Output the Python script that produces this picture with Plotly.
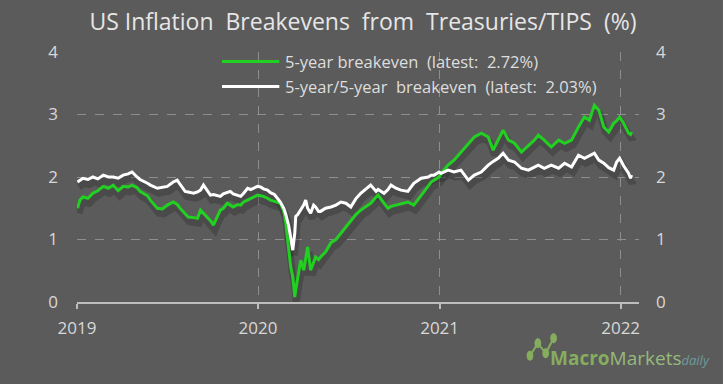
import plotly.graph_objects as go
import pandas as pd

dates = [
 "2019-01-02","2019-01-07","2019-01-13","2019-01-23","2019-02-02","2019-02-12","2019-02-23","2019-03-05",
 "2019-03-15","2019-03-25","2019-04-04","2019-04-14","2019-04-22","2019-05-02","2019-05-08","2019-05-23",
 "2019-05-29","2019-06-12","2019-06-22","2019-07-02","2019-07-14","2019-07-22","2019-07-28","2019-08-07",
 "2019-08-13","2019-08-24","2019-09-01","2019-09-07","2019-09-13","2019-09-21","2019-09-27","2019-10-03",
 "2019-10-11","2019-10-17","2019-10-23","2019-10-31","2019-11-06","2019-11-12","2019-11-21","2019-11-27",
 "2019-12-03","2019-12-11","2019-12-17","2019-12-25","2019-12-31","2020-01-06","2020-01-12","2020-01-20",
 "2020-01-26","2020-02-03","2020-02-09","2020-02-15","2020-02-22","2020-02-26","2020-03-03","2020-03-07",
 "2020-03-11","2020-03-15","2020-03-17","2020-03-21","2020-03-27","2020-04-02","2020-04-06","2020-04-10",
 "2020-04-16","2020-04-22","2020-04-26","2020-05-02","2020-05-06","2020-05-16","2020-05-27","2020-06-06",
 "2020-06-16","2020-06-26","2020-07-06","2020-07-16","2020-07-26","2020-08-05","2020-08-15","2020-08-26",
 "2020-08-30","2020-09-11","2020-09-19","2020-09-25","2020-10-05","2020-10-15","2020-10-29","2020-11-10",
 "2020-11-25","2020-12-09","2020-12-15","2020-12-21","2020-12-31","2021-01-04","2021-01-18","2021-01-30",
 "2021-02-13","2021-02-28","2021-03-12","2021-03-26","2021-04-09","2021-04-19","2021-04-29","2021-05-09",
 "2021-05-20","2021-06-01","2021-06-15","2021-06-29","2021-07-11","2021-07-19","2021-07-31","2021-08-14",
 "2021-08-29","2021-09-10","2021-09-24","2021-10-08","2021-10-20","2021-10-30","2021-11-09","2021-11-18",
 "2021-11-28","2021-12-08","2021-12-18","2021-12-24","2021-12-30","2022-01-07","2022-01-13","2022-01-17",
 "2022-01-21","2022-01-23",
]

five_year = [
 1.50,1.63,1.68,1.66,1.74,1.78,1.85,1.82,
 1.87,1.78,1.85,1.84,1.87,1.83,1.77,1.70,
 1.63,1.50,1.49,1.55,1.60,1.56,1.50,1.42,
 1.36,1.35,1.34,1.47,1.42,1.36,1.30,1.23,
 1.38,1.47,1.50,1.58,1.55,1.52,1.56,1.55,
 1.60,1.63,1.66,1.68,1.71,1.70,1.69,1.66,
 1.63,1.61,1.60,1.58,1.45,1.26,0.83,0.55,
 0.40,0.08,0.20,0.40,0.67,0.51,0.70,0.88,
 0.51,0.65,0.72,0.68,0.72,0.80,0.95,1.00,
 1.10,1.20,1.31,1.40,1.47,1.52,1.58,1.68,
 1.71,1.58,1.50,1.53,1.55,1.57,1.60,1.55,
 1.71,1.87,1.92,1.95,2.00,2.06,2.19,2.27,
 2.40,2.54,2.64,2.70,2.64,2.43,2.59,2.75,
 2.59,2.54,2.40,2.51,2.59,2.67,2.59,2.48,
 2.59,2.54,2.59,2.80,2.96,2.91,3.15,3.07,
 2.80,2.72,2.86,2.90,2.96,2.86,2.75,2.70,
 2.68,2.72,
]

five_five = [
 1.92,1.95,1.98,1.96,2.00,1.97,2.03,2.00,
 2.00,1.98,2.03,2.05,2.08,2.00,1.96,1.90,
 1.87,1.82,1.84,1.85,1.92,1.95,1.88,1.77,
 1.76,1.74,1.76,1.79,1.87,1.78,1.71,1.72,
 1.70,1.69,1.73,1.75,1.77,1.73,1.71,1.69,
 1.74,1.82,1.80,1.83,1.85,1.84,1.81,1.79,
 1.75,1.72,1.66,1.60,1.50,1.40,1.21,1.00,
 0.83,1.10,1.37,1.40,1.47,1.55,1.63,1.50,
 1.42,1.55,1.52,1.45,1.45,1.50,1.52,1.55,
 1.60,1.58,1.52,1.65,1.74,1.80,1.87,1.77,
 1.80,1.74,1.80,1.87,1.82,1.79,1.77,1.90,
 1.98,2.00,2.03,2.03,2.08,2.06,2.11,2.08,
 2.11,1.95,2.03,2.08,2.19,2.25,2.30,2.38,
 2.27,2.24,2.14,2.11,2.16,2.19,2.14,2.19,
 2.14,2.22,2.16,2.35,2.30,2.34,2.38,2.27,
 2.22,2.15,2.11,2.24,2.30,2.18,2.10,2.06,
 1.98,2.03,
]

series_names = ["5-year breakeven  (latest:  2.72%)", "5-year/5-year  breakeven  (latest:  2.03%)"]
series_colors = ["#22d022", "#ffffff"]
y_ticks = [0, 1, 2, 3, 4]
x_ticks = ["2019-01-01", "2020-01-01", "2021-01-01", "2022-01-01"]
x_tick_labels = ["2019", "2020", "2021", "2022"]
title_text = "US Inflation  Breakevens  from  Treasuries/TIPS  (%)"

BG = "#5b5b5b"
TXT = "#d8d8d8"
FONT = "Open Sans"

d = pd.to_datetime(dates)
shadow_d = d + pd.Timedelta(days=3)

fig = go.Figure()
for vals in [five_year, five_five]:
    fig.add_trace(go.Scatter(x=shadow_d, y=[v - 0.08 for v in vals], mode="lines",
                             line=dict(color="rgba(35,35,35,0.30)", width=7),
                             hoverinfo="skip", showlegend=False))
for vals, name, col in zip([five_year, five_five], series_names, series_colors):
    fig.add_trace(go.Scatter(x=d, y=vals, mode="lines", name=name,
                             line=dict(color=col, width=3), showlegend=False))
# invisible trace for right axis
fig.add_trace(go.Scatter(x=d[:1], y=five_year[:1], yaxis="y2", mode="lines",
                         line=dict(width=0), hoverinfo="skip", showlegend=False))

grid = dict(showgrid=True, gridcolor="#8e8e8e", griddash="dash", gridwidth=1)
fig.update_layout(
    width=723, height=384,
    paper_bgcolor=BG, plot_bgcolor=BG,
    margin=dict(l=77, r=84, t=52, b=82),
    font=dict(family=FONT, color=TXT, size=16),
    title=dict(text=title_text, x=0.502, xanchor="center", y=0.943, yanchor="middle",
               font=dict(size=23, color="#e6e6e6", family=FONT)),
    xaxis=dict(range=["2019-01-01", "2022-02-07"], tickvals=x_ticks, ticktext=x_tick_labels,
               ticks="outside", ticklen=5, tickcolor="#bdbdbd", tickwidth=2,
               showline=True, linecolor="#bdbdbd", linewidth=2, zeroline=False,
               ticklabelstandoff=5, tickfont=dict(size=17), **grid),
    yaxis=dict(range=[0, 4], tickvals=y_ticks, zeroline=False, ticks="",
               ticklabelstandoff=18, tickfont=dict(size=17), **grid),
    yaxis2=dict(range=[0, 4], tickvals=y_ticks, overlaying="y", side="right",
                showgrid=False, zeroline=False, ticklabelstandoff=16, tickfont=dict(size=17)),
)

# legend drawn as lines + text
legend_rows = [(0.962, 0), (0.862, 1)]
for yy, i in legend_rows:
    fig.add_shape(type="line", xref="paper", yref="paper", x0=0.258, x1=0.36, y0=yy, y1=yy,
                  line=dict(color=series_colors[i], width=3))
    fig.add_annotation(xref="paper", yref="paper", x=0.367, y=yy, xanchor="left", yanchor="middle",
                       text=series_names[i], showarrow=False, font=dict(size=16.5, color="#dedede"))

# watermark
fig.add_annotation(xref="paper", yref="paper", x=1.13, y=-0.225, xanchor="right", yanchor="middle",
                   showarrow=False,
                   text="<b><span style='color:#86ad5e'>Macro</span></b><span style='color:#97b97b'>Markets</span><i><span style='color:#6c9c9c;font-size:13px'>daily</span></i>",
                   font=dict(size=19, family=FONT))
icon_pts = [(0.806, -0.215), (0.82, -0.165), (0.834, -0.205), (0.848, -0.145)]
for (x0, y0), (x1, y1) in zip(icon_pts[:-1], icon_pts[1:]):
    fig.add_shape(type="line", xref="paper", yref="paper", x0=x0, y0=y0, x1=x1, y1=y1,
                  line=dict(color="#86ad5e", width=2))
for (x0, y0) in icon_pts:
    fig.add_shape(type="circle", xref="paper", yref="paper", x0=x0-0.006, x1=x0+0.006,
                  y0=y0-0.02, y1=y0+0.02, fillcolor="#86ad5e", line=dict(width=0))

fig.write_html("out.html", config={"displayModeBar": False},
               post_script="document.body.style.margin='0px';document.body.style.background='" + BG + "';")
